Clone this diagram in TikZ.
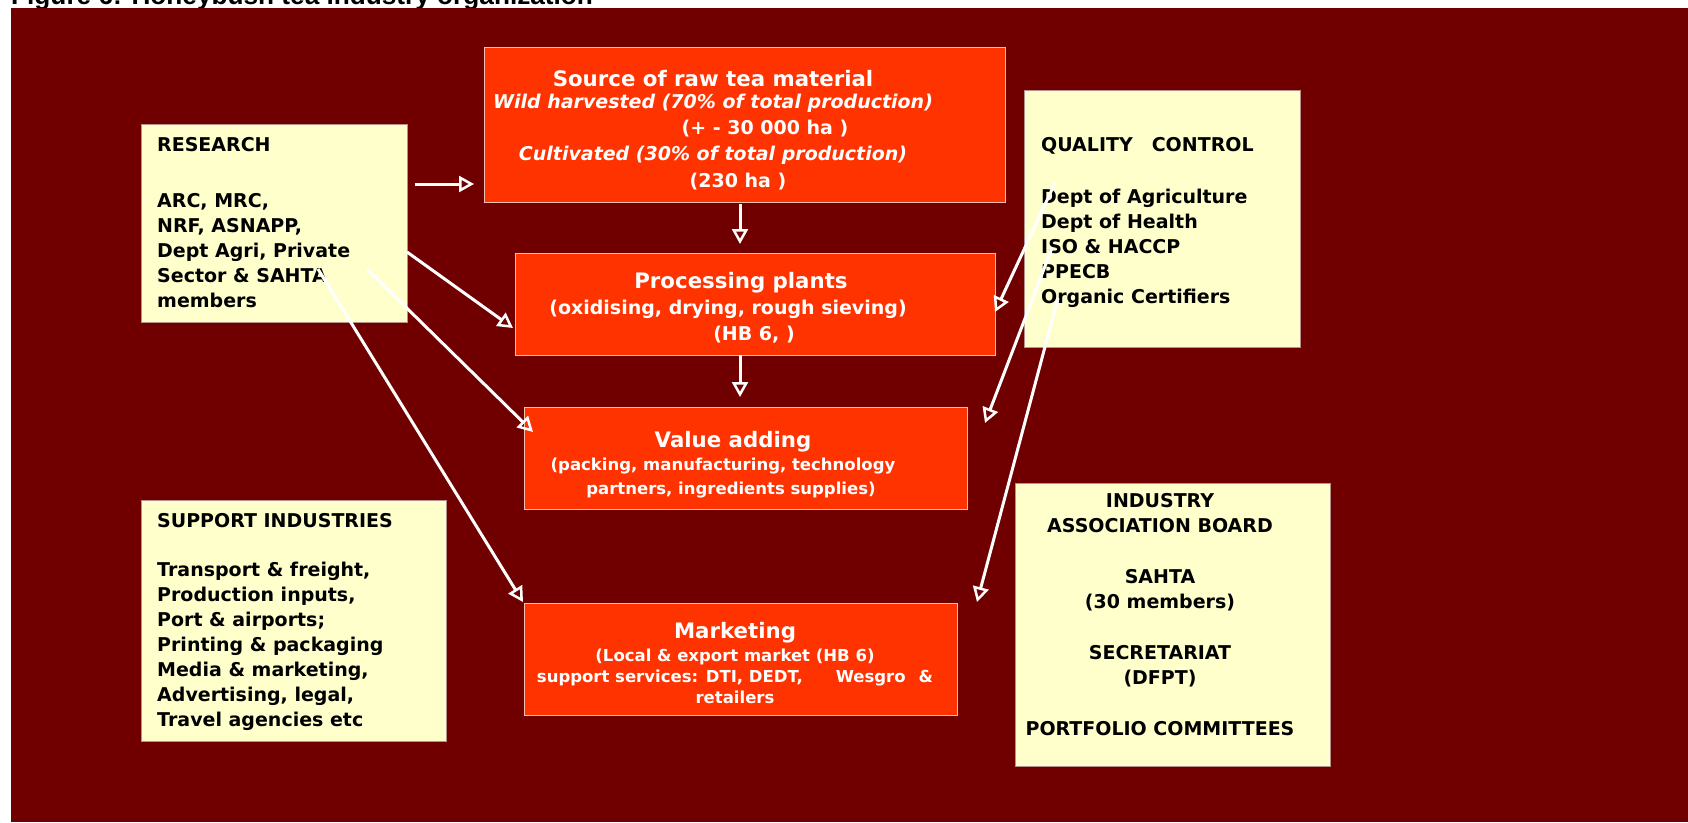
\documentclass[tikz,border=0pt]{standalone}
\usepackage{fontspec}
\setmainfont{DejaVu Sans}
\newfontfamily\titlefont{Liberation Sans}
\usetikzlibrary{arrows.meta,calc}
\definecolor{bgmaroon}{HTML}{700000}
\definecolor{boxorange}{HTML}{FF3300}
\definecolor{paleyellow}{HTML}{FFFFCC}
\definecolor{orangeedge}{HTML}{F4C0B0}
\definecolor{yellowedge}{HTML}{B89090}
\begin{document}
\begin{tikzpicture}[x=1pt,y=-1pt,
  obox/.style={draw=orangeedge, line width=1pt, fill=boxorange, anchor=north west, inner sep=0pt, outer sep=0pt},
  ybox/.style={draw=yellowedge, line width=1pt, fill=paleyellow, anchor=north west, inner sep=0pt, outer sep=0pt},
  wtext/.style={text=white, font=\fontsize{19}{26}\selectfont\bfseries, inner sep=0pt, align=center, anchor=base},
  btext/.style={text=black, font=\fontsize{19}{25}\selectfont\bfseries, inner sep=0pt, align=left, anchor=base west},
  arr/.style={draw=white, line width=3pt, -{Triangle[open,length=15pt,width=16pt,line width=2.5pt]}},
]
\useasboundingbox (0,0) rectangle (1688,822);
\fill[white] (0,0) rectangle (1688,822);
% cut-off caption
\node[anchor=base west, inner sep=0pt, font=\titlefont\bfseries\fontsize{26.2}{30}\selectfont] (title) at (11,4.5) {Figure 6: Honeybush tea industry organization};
\fill[bgmaroon] (11,8) rectangle (1688,822);

% boxes
\node[obox, minimum width=521pt, minimum height=155pt] (src) at (484,47) {};
\node[obox, minimum width=480pt, minimum height=102pt] (proc) at (515,253) {};
\node[obox, minimum width=443pt, minimum height=102pt] (val) at (524,407) {};
\node[obox, minimum width=433pt, minimum height=112pt] (mkt) at (524,603) {};
\node[ybox, minimum width=266pt, minimum height=198pt] (res) at (141,124) {};
\node[ybox, minimum width=276pt, minimum height=257pt] (qc) at (1024,90) {};
\node[ybox, minimum width=305pt, minimum height=241pt] (sup) at (141,500) {};
\node[ybox, minimum width=315pt, minimum height=283pt] (ind) at (1015,483) {};

% texts (anchor = baseline of the last line)
\node[wtext, font=\fontsize{19}{26.3}\selectfont\bfseries] (srcT) at (713,187)
  {{\fontsize{21.3}{26.3}\selectfont Source of raw tea material}\\[-4.3pt]
   \itshape Wild harvested (70\% of total production)\\
   \hspace*{104pt}(+ - 30 000 ha )\\
   \itshape Cultivated (30\% of total production)\\
   \hspace*{50pt}(230 ha )};
\node[wtext] (procT) at (728,340)
  {\hspace*{26pt}{\fontsize{21.3}{26}\selectfont Processing plants}\\
   (oxidising, drying, rough sieving)\\
   \hspace*{52pt}(HB 6, )};
\node[wtext, font=\fontsize{16.5}{23.5}\selectfont\bfseries] (valT) at (723,494)
  {\hspace*{20pt}{\fontsize{21.3}{24}\selectfont Value adding}\\
   (packing, manufacturing, technology\\
   \hspace*{16pt}partners, ingredients supplies)};
\node[wtext, font=\fontsize{16.5}{21}\selectfont\bfseries] (mktT) at (735,703)
  {{\fontsize{21.3}{21}\selectfont Marketing}\\[2pt]
   (Local \& export market (HB 6)\hspace*{18pt}\\
   support services: DTI, DEDT,\hspace{33pt}Wesgro\hspace{13pt}\&\\
   retailers};
\node[btext] (resT) at (157,307)
  {RESEARCH\\[31pt]ARC, MRC,\\NRF, ASNAPP,\\Dept Agri, Private\\Sector \& SAHTA\\members};
\node[btext] (qcT) at (1041,303)
  {QUALITY\hspace{19pt}CONTROL\\[27pt]Dept of Agriculture\\Dept of Health\\ISO \& HACCP\\PPECB\\Organic Certifiers};
\node[btext] (supT) at (157,726)
  {SUPPORT INDUSTRIES\\[24pt]Transport \& freight,\\Production inputs,\\Port \& airports;\\Printing \& packaging\\Media \& marketing,\\Advertising, legal,\\Travel agencies etc};
\node[btext, align=center, anchor=base, font=\fontsize{19}{25.5}\selectfont\bfseries] (indT) at (1160,735)
  {INDUSTRY\\ASSOCIATION BOARD\\[25pt]SAHTA\\(30 members)\\[25pt]SECRETARIAT\\(DFPT)\\[25pt]PORTFOLIO COMMITTEES};

% connectors
\draw[arr] ($(res.north east)+(8,60)$) -- ($(src.north west)+(-10,137)$);
\draw[arr] ($(src.south west)+(256,2)$) -- ($(proc.north west)+(225,-9)$);
\draw[arr] ($(proc.south west)+(225,0)$) -- ($(val.north west)+(216,-10)$);
\draw[arr] ($(res.north east)+(0,128)$) -- ($(proc.north west)+(-2,75)$);
\draw[arr] ($(res.north east)+(-40,145)$) -- ($(val.north west)+(9,25)$);
\draw[arr] ($(res.north east)+(-89,145)$) -- ($(mkt.north west)+(-1,-1)$);
\draw[arr] ($(qc.north west)+(31,93)$) -- ($(proc.north east)+(0,59)$);
\draw[arr] ($(qc.north west)+(28,158)$) -- ($(val.north east)+(18,16)$);
\draw[arr] ($(qc.north west)+(34,208)$) -- ($(mkt.north east)+(20,-1)$);
\end{tikzpicture}
\end{document}
